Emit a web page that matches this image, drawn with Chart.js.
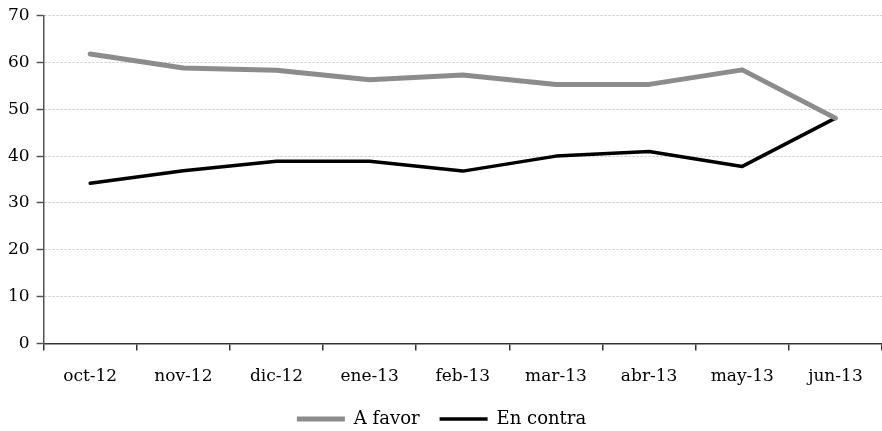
<!DOCTYPE html>
<html>
<head>
<meta charset="utf-8">
<script src="https://cdn.jsdelivr.net/npm/chart.js@4"></script>
<style>
html,body{margin:0;padding:0;background:#fff;}
#wrap{width:882px;height:431px;}
</style>
</head>
<body>
<div id="wrap"><canvas id="c" width="882" height="431"></canvas></div>
<script>
const categories = ["oct-12","nov-12","dic-12","ene-13","feb-13","mar-13","abr-13","may-13","jun-13"];
const aFavor = [61.8, 58.8, 58.3, 56.3, 57.3, 55.3, 55.3, 58.4, 48.1];
const enContra = [34.2, 36.9, 38.9, 38.9, 36.8, 40.0, 41.0, 37.8, 48.1];
const yTicks = {min: 0, max: 70, step: 10};

const FONT = "'DejaVu Serif', 'Liberation Serif', serif";
const FS = 17;

const legendFitPatch = {
  id: 'legendFitPatch',
  beforeLayout(chart) {
    const lg = chart.legend;
    if (lg && !lg._patched) {
      const orig = lg.fit;
      lg.fit = function() { orig.call(this); this.height -= 7; };
      lg._patched = true;
    }
  }
};

new Chart(document.getElementById('c'), {
  type: 'line',
  data: {
    labels: categories,
    datasets: [
      {label: 'A favor', data: aFavor, borderColor: '#8c8c8c', backgroundColor: '#8c8c8c',
       borderWidth: 5, pointRadius: 0, tension: 0, borderJoinStyle: 'round', borderCapStyle: 'round'},
      {label: 'En contra', data: enContra, borderColor: '#000000', backgroundColor: '#000000',
       borderWidth: 3.5, pointRadius: 0, tension: 0, borderJoinStyle: 'round', borderCapStyle: 'round'}
    ]
  },
  plugins: [legendFitPatch],
  options: {
    responsive: false,
    animation: false,
    devicePixelRatio: 1,
    layout: {padding: {top: 0, right: 0, left: 1, bottom: 0}},
    plugins: {
      tooltip: {enabled: false},
      legend: {
        position: 'bottom',
        labels: {
          font: {family: FONT, size: 18},
          color: '#000',
          usePointStyle: true,
          pointStyle: 'line',
          pointStyleWidth: 48,
          boxHeight: 10,
          padding: 20
        }
      }
    },
    scales: {
      x: {
        offset: true,
        afterFit(scale) { scale.height -= 13; },
        grid: {display: true, drawOnChartArea: false, drawTicks: true, tickLength: 7, offset: true,
               color: '#333', tickColor: '#333', lineWidth: 1.5},
        border: {display: true, color: '#333', width: 1.5},
        ticks: {font: {family: FONT, size: FS}, color: '#000', padding: 16, maxRotation: 0, autoSkip: false}
      },
      y: {
        min: yTicks.min, max: yTicks.max,
        grid: {color: '#c4c4c4', lineWidth: 1, drawTicks: true, tickLength: 7, tickColor: '#555', tickWidth: 1.5},
        border: {display: true, color: '#555', width: 1.5, dash: [2, 2]},
        ticks: {stepSize: yTicks.step, font: {family: FONT, size: FS, lineHeight: 1}, color: '#000', padding: 7}
      }
    }
  }
});
</script>
</body>
</html>
